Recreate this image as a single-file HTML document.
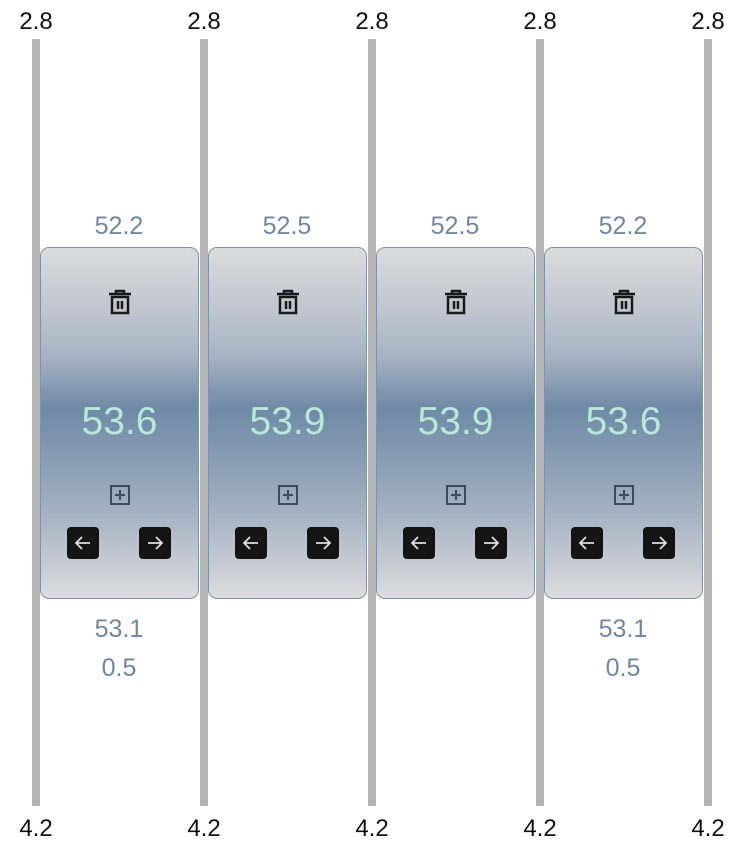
<!DOCTYPE html>
<html><head><meta charset="utf-8"><style>
body{margin:0;width:740px;height:856px;background:#fff;font-family:"Liberation Sans",sans-serif;position:relative;overflow:hidden}
.abs{position:absolute}
.axis{background:#b5b5b5;width:8px;top:39px;height:767px}
.tick{font-size:24px;color:#111;width:80px;text-align:center}
.card{height:352px;top:247px;border:1px solid #7a93b0;border-radius:9px;box-sizing:border-box;width:159px;
background:linear-gradient(#dcdcdd 0%,#aab6c5 30%,#6f89a6 46%,#a3b1c2 75%,#dcdcdd 100%)}
.lab{font-size:25px;color:#6f87a3;width:160px;text-align:center}
.mid{font-size:39px;color:#b7e9d6;width:159px;text-align:center;top:152px;left:-1px}
.btn{width:32px;height:32px;background:#141414;border-radius:4px;top:279px}
</style></head><body>
<div id="root"></div>
<script>
const axisTops=["2.8","2.8","2.8","2.8","2.8"];
const axisBottoms=["4.2","4.2","4.2","4.2","4.2"];
const topVals=["52.2","52.5","52.5","52.2"];
const midVals=["53.6","53.9","53.9","53.6"];
const bot1=["53.1","","","53.1"];
const bot2=["0.5","","","0.5"];
const root=document.getElementById('root');
function mk(cls,x,y,txt,parent){const d=document.createElement('div');d.className='abs '+cls;d.style.left=x+'px';d.style.top=y+'px';if(txt!=null)d.textContent=txt;(parent||document.body).appendChild(d);return d;}
axisTops.forEach((t,i)=>{const cx=36+168*i;
const a=mk('axis',cx-4,39);
const t1=mk('tick',cx-40,8,t);
const t2=mk('tick',cx-40,815,axisBottoms[i]);});
const trash='<svg width="26" height="28" viewBox="0 0 26 28"><path d="M2 6h22M9 6V3h8v3" stroke="#1a1a1a" stroke-width="2.5" fill="none"/><rect x="5" y="9" width="16" height="16" stroke="#1a1a1a" stroke-width="2.5" fill="none"/><path d="M11 13v8M15 13v8" stroke="#1a1a1a" stroke-width="2.5"/></svg>';
const plus='<svg width="22" height="22" viewBox="0 0 22 22"><rect x="2" y="2" width="18" height="18" stroke="#3d4b5e" stroke-width="2" fill="none"/><path d="M11 6v10M6 11h10" stroke="#3d4b5e" stroke-width="2"/></svg>';
const arr=d=>'<svg width="32" height="32" viewBox="0 0 32 32"><path d="'+(d<0?'M23 16H9M15 10l-6 6 6 6':'M9 16h14M17 10l6 6-6 6')+'" stroke="#ddd" stroke-width="1.8" fill="none"/></svg>';
topVals.forEach((v,i)=>{const x=40+168*i;
const l=mk('lab',x-1,212,v);
const c=mk('card',x,247);
const tr=mk('',66,40,null,c);tr.innerHTML=trash;
const m=mk('mid',-1,152,midVals[i],c);
const p=mk('',68,236,null,c);p.innerHTML=plus;
const b1=mk('btn',26,279,null,c);b1.innerHTML=arr(-1);
const b2=mk('btn',98,279,null,c);b2.innerHTML=arr(1);
if(bot1[i]){const q=mk('lab',x-1,615,bot1[i]);}
if(bot2[i]){const q=mk('lab',x-1,654,bot2[i]);}
});
</script>
</body></html>
